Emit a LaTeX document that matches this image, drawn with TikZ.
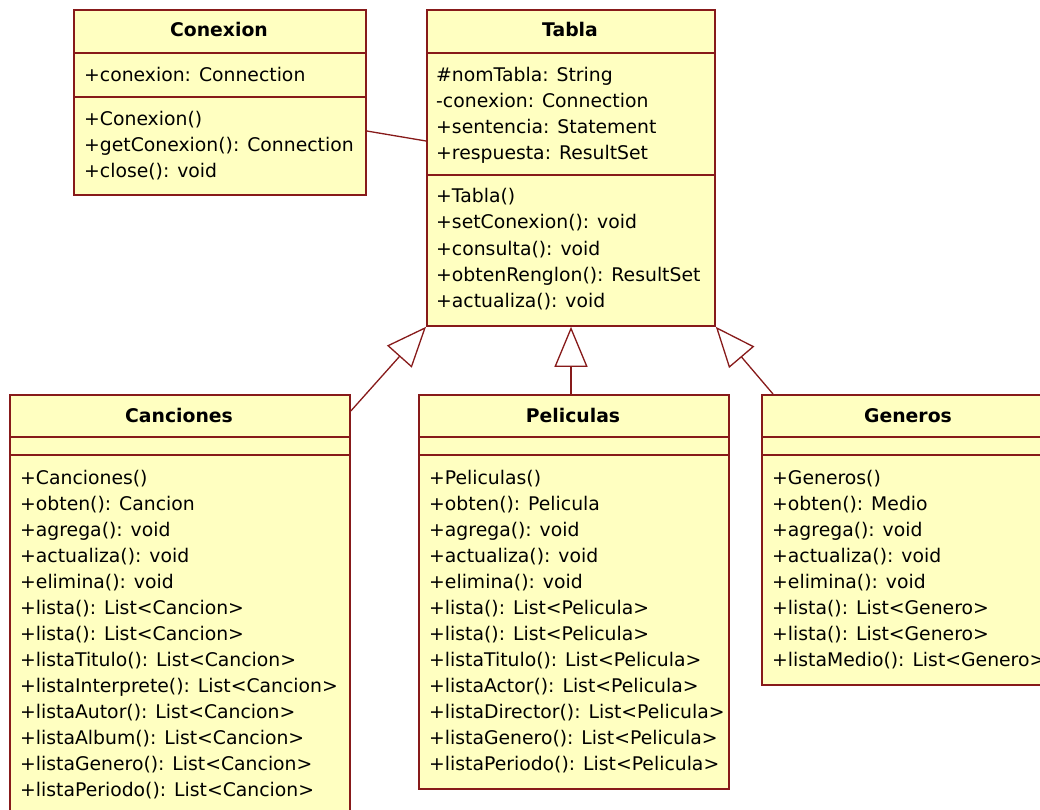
\documentclass[tikz,border=0pt]{standalone}
\usepackage{fontspec}
\setmainfont{DejaVu Sans}
\usetikzlibrary{arrows.meta}
\definecolor{umlred}{RGB}{135,26,26}
\definecolor{umlfill}{RGB}{255,255,193}
\tikzset{
  cls/.style={draw=umlred, fill=umlfill, line width=1.8pt, inner sep=0pt, anchor=north west},
  sep/.style={draw=umlred, line width=1.8pt},
  txt/.style={anchor=base west, inner sep=0pt, font=\fontsize{18.8}{26}\selectfont},
  ttl/.style={anchor=base, inner sep=0pt, font=\bfseries\fontsize{18.8}{26}\selectfont},
  gen/.style={draw=umlred, line width=1.3pt, -{Triangle[open, length=40pt, width=33pt, fill=white, line width=1.3pt]}},
  assoc/.style={draw=umlred, line width=1.3pt},
}
\begin{document}
\begin{tikzpicture}[x=1pt, y=-1pt]
\useasboundingbox (0,0) rectangle (1040,810);
\clip (0,0) rectangle (1040,810);
\fill[white] (0,0) rectangle (1040,810);

% Conexion
\node[cls, minimum width=292pt, minimum height=185pt] (con) at (73,9) {};
\draw[sep] (73,53) -- (365,53);
\draw[sep] (73,97) -- (365,97);
\node[ttl] (conT) at (219,37) {Conexion};
\node[txt] (conA1) at (84,82) {+conexion: Connection};
\foreach \t [count=\i] in {+Conexion(), +getConexion(): Connection, +close(): void}
  \node[txt] (conM\i) at (84,{100+26*\i}) {\t};

% Tabla
\node[cls, minimum width=288pt, minimum height=316pt] (tab) at (426,9) {};
\draw[sep] (426,53) -- (714,53);
\draw[sep] (426,175) -- (714,175);
\node[ttl] (tabT) at (570,37) {Tabla};
\foreach \t [count=\i] in {\#nomTabla: String, -conexion: Connection, +sentencia: Statement, +respuesta: ResultSet}
  \node[txt] (tabA\i) at (436,{56+26*\i}) {\t};
\foreach \t [count=\i] in {+Tabla(), +setConexion(): void, +consulta(): void, +obtenRenglon(): ResultSet, +actualiza(): void}
  \node[txt] (tabM\i) at (436,{177+26*\i}) {\t};

% Canciones
\node[cls, minimum width=340pt, minimum height=440pt] (can) at (9,394) {};
\draw[sep] (9,437) -- (349,437);
\draw[sep] (9,455) -- (349,455);
\node[ttl] (canT) at (179,422) {Canciones};
\foreach \t [count=\i] in {+Canciones(), +obten(): Cancion, +agrega(): void, +actualiza(): void, +elimina(): void, +lista(): List<Cancion>, +lista(): List<Cancion>, +listaTitulo(): List<Cancion>, +listaInterprete(): List<Cancion>, +listaAutor(): List<Cancion>, +listaAlbum(): List<Cancion>, +listaGenero(): List<Cancion>, +listaPeriodo(): List<Cancion>}
  \node[txt] (canM\i) at (20,{458+26*\i}) {\t};

% Peliculas
\node[cls, minimum width=310pt, minimum height=394pt] (pel) at (418,394) {};
\draw[sep] (418,437) -- (728,437);
\draw[sep] (418,455) -- (728,455);
\node[ttl] (pelT) at (573,422) {Peliculas};
\foreach \t [count=\i] in {+Peliculas(), +obten(): Pelicula, +agrega(): void, +actualiza(): void, +elimina(): void, +lista(): List<Pelicula>, +lista(): List<Pelicula>, +listaTitulo(): List<Pelicula>, +listaActor(): List<Pelicula>, +listaDirector(): List<Pelicula>, +listaGenero(): List<Pelicula>, +listaPeriodo(): List<Pelicula>}
  \node[txt] (pelM\i) at (429,{458+26*\i}) {\t};

% Generos
\node[cls, minimum width=300pt, minimum height=290pt] (gen) at (761,394) {};
\draw[sep] (761,437) -- (1061,437);
\draw[sep] (761,455) -- (1061,455);
\node[ttl] (genT) at (908,422) {Generos};
\foreach \t [count=\i] in {+Generos(), +obten(): Medio, +agrega(): void, +actualiza(): void, +elimina(): void, +lista(): List<Genero>, +lista(): List<Genero>, +listaMedio(): List<Genero>}
  \node[txt] (genM\i) at (772,{458+26*\i}) {\t};

% connectors
\coordinate (canP) at (can.east |- 0,411);
\coordinate (genP) at (773,394);
\draw[gen] (canP) -- (tab.south west);
\draw[gen] (pel.north -| 571,0) -- (tab.south -| 571,0);
\draw[gen] (genP) -- (tab.south east);
\draw[assoc] (con.east |- 0,131) -- (tab.west |- 0,141);
\end{tikzpicture}
\end{document}
